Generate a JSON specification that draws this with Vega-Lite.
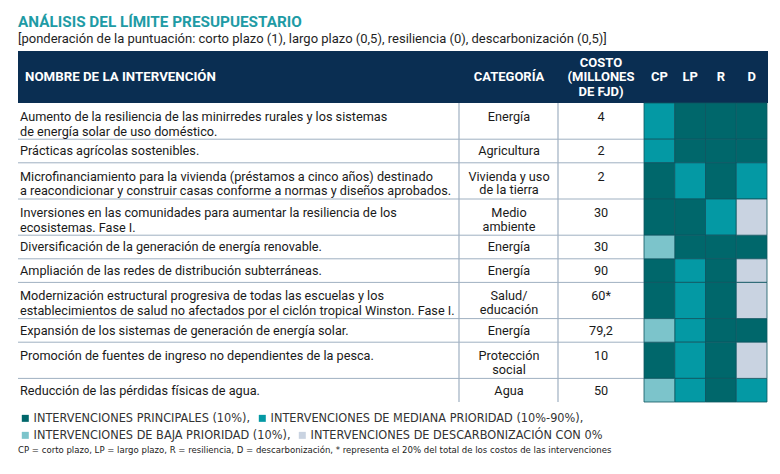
{
  "$schema": "https://vega.github.io/schema/vega-lite/v6.json",
  "width": 750,
  "height": 423,
  "autosize": {"type": "none"},
  "padding": {"left": 18, "top": 51, "right": 12, "bottom": 0},
  "background": "white",
  "config": {"view": {"stroke": null}},
  "title": {
    "text": "ANÁLISIS DEL LÍMITE PRESUPUESTARIO",
    "subtitle": "[ponderación de la puntuación: corto plazo (1), largo plazo (0,5), resiliencia (0), descarbonización (0,5)]",
    "anchor": "start",
    "frame": "group",
    "offset": 5,
    "font": "Roboto",
    "fontSize": 15.3,
    "fontWeight": "bold",
    "color": "#1e9ba5",
    "subtitleFont": "Roboto",
    "subtitleFontSize": 13,
    "subtitleColor": "#1f1f1f",
    "subtitlePadding": 3
  },
  "data": {
    "values": [
      {"id": 1, "name": ["Aumento de la resiliencia de las minirredes rurales y los sistemas", "de energía solar de uso doméstico."], "cat": ["Energía"], "cost": "4", "CP": "M", "LP": "P", "R": "P", "D": "P"},
      {"id": 2, "name": ["Prácticas agrícolas sostenibles."], "cat": ["Agricultura"], "cost": "2", "CP": "M", "LP": "P", "R": "P", "D": "P"},
      {"id": 3, "name": ["Microfinanciamiento para la vivienda (préstamos a cinco años) destinado", "a reacondicionar y construir casas conforme a normas y diseños aprobados."], "cat": ["Vivienda y uso", "de la tierra"], "cost": "2", "CP": "P", "LP": "M", "R": "P", "D": "M"},
      {"id": 4, "name": ["Inversiones en las comunidades para aumentar la resiliencia de los", "ecosistemas. Fase I."], "cat": ["Medio", "ambiente"], "cost": "30", "CP": "P", "LP": "P", "R": "M", "D": "D"},
      {"id": 5, "name": ["Diversificación de la generación de energía renovable."], "cat": ["Energía"], "cost": "30", "CP": "B", "LP": "P", "R": "P", "D": "P"},
      {"id": 6, "name": ["Ampliación de las redes de distribución subterráneas."], "cat": ["Energía"], "cost": "90", "CP": "P", "LP": "M", "R": "P", "D": "D"},
      {"id": 7, "name": ["Modernización estructural progresiva de todas las escuelas y los", "establecimientos de salud no afectados por el ciclón tropical Winston. Fase I."], "cat": ["Salud/", "educación"], "cost": "60*", "CP": "P", "LP": "M", "R": "P", "D": "D"},
      {"id": 8, "name": ["Expansión de los sistemas de generación de energía solar."], "cat": ["Energía"], "cost": "79,2", "CP": "B", "LP": "M", "R": "P", "D": "P"},
      {"id": 9, "name": ["Promoción de fuentes de ingreso no dependientes de la pesca."], "cat": ["Protección", "social"], "cost": "10", "CP": "P", "LP": "M", "R": "P", "D": "D"},
      {"id": 10, "name": ["Reducción de las pérdidas físicas de agua."], "cat": ["Agua"], "cost": "50", "CP": "B", "LP": "M", "R": "P", "D": "M"}
    ]
  },
  "transform": [
    {"calculate": "max(length(datum.name), length(datum.cat))", "as": "n"},
    {"calculate": "datum.n == 1 ? 23.6 : 36.2", "as": "h"},
    {"window": [{"op": "sum", "field": "h", "as": "cum"}], "sort": [{"field": "id", "order": "ascending"}], "frame": [null, 0]},
    {"calculate": "52 + datum.cum", "as": "bottom"},
    {"calculate": "datum.bottom - datum.h", "as": "top"},
    {"calculate": "datum.top + 11.8 + (datum.n - 1) * 1.9", "as": "ty"}
  ],
  "resolve": {"scale": {"x": "independent"}},
  "layer": [
    {
      "layer": [
        {
          "data": {"values": [{}]},
          "mark": {"type": "rect", "color": "#0a2e52"},
          "encoding": {
            "x": {"datum": 0, "type": "quantitative", "scale": {"domain": [0, 750], "nice": false, "zero": false}, "axis": null},
            "x2": {"datum": 750},
            "y": {"datum": 0, "type": "quantitative", "scale": {"domain": [0, 423], "nice": false, "zero": false, "reverse": true}, "axis": null},
            "y2": {"datum": 52}
          }
        },
        {
          "data": {"values": [{}]},
          "mark": {"type": "text", "text": "NOMBRE DE LA INTERVENCIÓN", "align": "left", "baseline": "middle", "color": "white", "font": "Roboto", "fontWeight": "bold", "fontSize": 13.3},
          "encoding": {"x": {"datum": 7, "type": "quantitative"}, "y": {"datum": 26, "type": "quantitative"}}
        },
        {
          "data": {"values": [{}]},
          "mark": {"type": "text", "text": "CATEGORÍA", "align": "center", "baseline": "middle", "color": "white", "font": "Roboto", "fontWeight": "bold", "fontSize": 13},
          "encoding": {"x": {"datum": 491, "type": "quantitative"}, "y": {"datum": 26, "type": "quantitative"}}
        },
        {
          "data": {"values": [{}]},
          "mark": {"type": "text", "text": ["COSTO", "(MILLONES", "DE FJD)"], "align": "center", "baseline": "middle", "lineHeight": 14.2, "color": "white", "font": "Roboto", "fontWeight": "bold", "fontSize": 13},
          "encoding": {"x": {"datum": 583, "type": "quantitative"}, "y": {"datum": 12.2, "type": "quantitative"}}
        },
        {
          "transform": [{"filter": "datum.id < 10"}],
          "mark": {"type": "rule", "color": "#9fb0c1", "strokeWidth": 1},
          "encoding": {"x": {"datum": 0, "type": "quantitative"}, "x2": {"datum": 626}, "y": {"field": "bottom", "type": "quantitative"}}
        },
        {
          "mark": {"type": "rule", "color": "#9fb0c1", "strokeWidth": 1.2},
          "encoding": {"x": {"datum": 441, "type": "quantitative"}, "y": {"field": "top", "type": "quantitative"}, "y2": {"field": "bottom"}}
        },
        {
          "mark": {"type": "rule", "color": "#9fb0c1", "strokeWidth": 1.2},
          "encoding": {"x": {"datum": 540, "type": "quantitative"}, "y": {"field": "top", "type": "quantitative"}, "y2": {"field": "bottom"}}
        },
        {
          "mark": {"type": "text", "align": "left", "baseline": "alphabetic", "dy": 4.3, "font": "Roboto", "fontSize": 12.7, "lineHeight": 14.7, "color": "#1a1a1a"},
          "encoding": {"x": {"datum": 2, "type": "quantitative"}, "y": {"field": "ty", "type": "quantitative"}, "text": {"field": "name"}}
        },
        {
          "mark": {"type": "text", "align": "center", "baseline": "alphabetic", "dy": 4.3, "font": "Roboto", "fontSize": 12.7, "lineHeight": 13.5, "color": "#1a1a1a"},
          "encoding": {"x": {"datum": 491, "type": "quantitative"}, "y": {"field": "ty", "type": "quantitative"}, "text": {"field": "cat"}}
        },
        {
          "mark": {"type": "text", "align": "center", "baseline": "alphabetic", "dy": 4.3, "font": "Roboto", "fontSize": 12.7, "color": "#1a1a1a"},
          "encoding": {"x": {"datum": 583, "type": "quantitative"}, "y": {"field": "ty", "type": "quantitative"}, "text": {"field": "cost"}}
        },
        {
          "data": {"values": [{}]},
          "mark": {"type": "text", "text": "CP = corto plazo, LP = largo plazo, R = resiliencia, D = descarbonización, * representa el 20% del total de los costos de las intervenciones", "align": "left", "baseline": "middle", "font": "DejaVu Sans Condensed, Roboto", "fontSize": 9.5, "color": "#222"},
          "encoding": {"x": {"datum": 0, "type": "quantitative"}, "y": {"datum": 399, "type": "quantitative"}}
        }
      ]
    },
    {
      "resolve": {"scale": {"color": "independent"}, "legend": {"color": "independent"}},
      "layer": [
        {
          "transform": [{"fold": ["CP", "LP", "R", "D"], "as": ["key", "cls"]}, {"filter": "datum.cls == 'P' || datum.cls == 'M'"}],
          "mark": {"type": "rect", "stroke": "#0e5661", "strokeWidth": 0.8},
          "encoding": {
            "x": {"field": "key", "type": "nominal", "sort": null, "scale": {"domain": ["CP", "LP", "R", "D"], "range": [626, 749], "paddingInner": 0, "paddingOuter": 0}, "axis": null},
            "y": {"field": "top", "type": "quantitative"},
            "y2": {"field": "bottom"},
            "color": {
              "field": "cls", "type": "nominal",
              "scale": {"domain": ["P", "M"], "range": ["#00676b", "#0499a4"]},
              "legend": {
                "orient": "none", "legendX": 1, "legendY": 361, "direction": "horizontal",
                "title": null, "symbolType": "square", "symbolSize": 49, "symbolStrokeWidth": 0, "symbolOpacity": 1,
                "labelFont": "DejaVu Sans Condensed, Roboto", "labelFontSize": 12.6, "labelColor": "#333", "labelLimit": 0,
                "labelOffset": 2, "columnPadding": 5, "padding": 0,
                "labelExpr": "datum.value == 'P' ? 'INTERVENCIONES PRINCIPALES (10%),' : 'INTERVENCIONES DE MEDIANA PRIORIDAD (10%-90%),'"
              }
            }
          }
        },
        {
          "transform": [{"fold": ["CP", "LP", "R", "D"], "as": ["key", "cls"]}, {"filter": "datum.cls == 'B' || datum.cls == 'D'"}],
          "mark": {"type": "rect", "stroke": "#0e5661", "strokeWidth": 0.8},
          "encoding": {
            "x": {"field": "key", "type": "nominal", "sort": null},
            "y": {"field": "top", "type": "quantitative"},
            "y2": {"field": "bottom"},
            "color": {
              "field": "cls", "type": "nominal",
              "scale": {"domain": ["B", "D"], "range": ["#7cc4cb", "#c9d3e1"]},
              "legend": {
                "orient": "none", "legendX": 1, "legendY": 378, "direction": "horizontal",
                "title": null, "symbolType": "square", "symbolSize": 49, "symbolStrokeWidth": 0, "symbolOpacity": 1,
                "labelFont": "DejaVu Sans Condensed, Roboto", "labelFontSize": 12.6, "labelColor": "#333", "labelLimit": 0,
                "labelOffset": 2, "columnPadding": 5, "padding": 0,
                "labelExpr": "datum.value == 'B' ? 'INTERVENCIONES DE BAJA PRIORIDAD (10%),' : 'INTERVENCIONES DE DESCARBONIZACIÓN CON 0%'"
              }
            }
          }
        },
        {
          "data": {"values": [{"key": "CP"}, {"key": "LP"}, {"key": "R"}, {"key": "D"}]},
          "mark": {"type": "text", "color": "white", "font": "Roboto", "fontWeight": "bold", "fontSize": 13, "baseline": "middle"},
          "encoding": {
            "x": {"field": "key", "type": "nominal", "sort": null},
            "y": {"datum": 26, "type": "quantitative"},
            "text": {"field": "key"}
          }
        }
      ]
    }
  ]
}
